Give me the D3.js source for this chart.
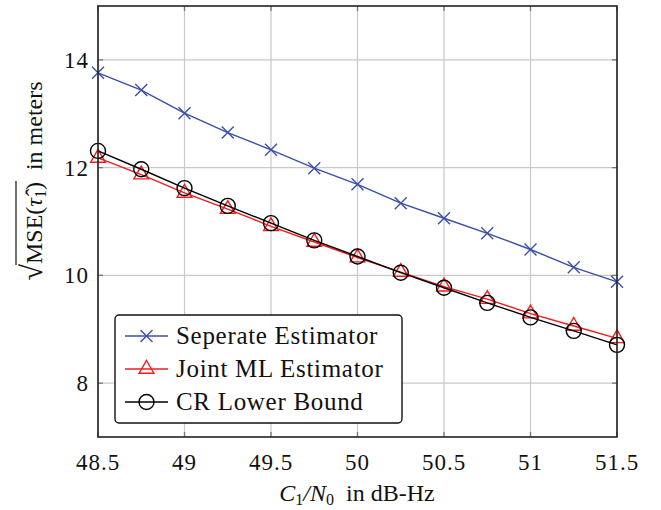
<!DOCTYPE html>
<html>
<head>
<meta charset="utf-8">
<script src="https://cdn.jsdelivr.net/npm/d3@7"></script>
<style>
  body { margin: 0; background: #fff; }
  svg { display: block; }
  .grid line { stroke: #c8c8c8; stroke-width: 1.2; }
  text { font-family: "Liberation Serif", "DejaVu Serif", serif; fill: #111; }
</style>
</head>
<body>
<svg id="chart" width="661" height="510"></svg>
<script>
var xValues = [48.5, 48.75, 49, 49.25, 49.5, 49.75, 50, 50.25, 50.5, 50.75, 51, 51.25, 51.5];
var separate = [13.76, 13.44, 13.01, 12.65, 12.33, 11.99, 11.69, 11.34, 11.06, 10.78, 10.48, 10.15, 9.88];
var jointML = [12.18, 11.87, 11.53, 11.23, 10.91, 10.62, 10.33, 10.06, 9.79, 9.56, 9.29, 9.06, 8.83];
var crBound = [12.31, 11.97, 11.62, 11.29, 10.97, 10.65, 10.35, 10.05, 9.77, 9.49, 9.22, 8.97, 8.71];
var xTicks = [48.5, 49, 49.5, 50, 50.5, 51, 51.5];
var yTicks = [8, 10, 12, 14];
var seriesNames = ['Seperate Estimator', 'Joint ML Estimator', 'CR Lower Bound'];

var svg = d3.select('#chart');
var plotLeft = 98, plotRight = 617, plotTop = 6, plotBottom = 437;

var xScale = d3.scaleLinear().domain([48.5, 51.5]).range([plotLeft, plotRight]);
var yScale = d3.scaleLinear().domain([7, 15]).range([plotBottom, plotTop]);

// grid
var grid = svg.append('g').attr('class', 'grid');
grid.selectAll('line.v').data(xTicks).enter().append('line')
    .attr('x1', function (d) { return xScale(d); })
    .attr('x2', function (d) { return xScale(d); })
    .attr('y1', plotTop).attr('y2', plotBottom);
grid.selectAll('line.h').data(yTicks).enter().append('line')
    .attr('x1', plotLeft).attr('x2', plotRight)
    .attr('y1', function (d) { return yScale(d); })
    .attr('y2', function (d) { return yScale(d); });

// inward ticks on all sides
var tickG = svg.append('g').attr('stroke', '#777').attr('stroke-width', 1.3);
xTicks.forEach(function (d) {
    tickG.append('line').attr('x1', xScale(d)).attr('x2', xScale(d)).attr('y1', plotBottom).attr('y2', plotBottom - 5);
    tickG.append('line').attr('x1', xScale(d)).attr('x2', xScale(d)).attr('y1', plotTop).attr('y2', plotTop + 5);
});
yTicks.forEach(function (d) {
    tickG.append('line').attr('x1', plotLeft).attr('x2', plotLeft + 5).attr('y1', yScale(d)).attr('y2', yScale(d));
    tickG.append('line').attr('x1', plotRight).attr('x2', plotRight - 5).attr('y1', yScale(d)).attr('y2', yScale(d));
});

// tick labels
svg.append('g').selectAll('text').data(xTicks).enter().append('text')
    .attr('x', function (d) { return xScale(d); })
    .attr('y', 470)
    .attr('text-anchor', 'middle')
    .style('font-size', '23px')
    .style('letter-spacing', '1px')
    .text(function (d) { return d; });
svg.append('g').selectAll('text').data(yTicks).enter().append('text')
    .attr('x', plotLeft - 9)
    .attr('y', function (d) { return yScale(d) + 8; })
    .attr('text-anchor', 'end')
    .style('font-size', '23px')
    .style('letter-spacing', '1px')
    .text(function (d) { return d; });

// series
var series = [
    { name: seriesNames[0], values: separate, color: '#3a4fa6', marker: 'cross' },
    { name: seriesNames[1], values: jointML, color: '#f21c1c', marker: 'triangle' },
    { name: seriesNames[2], values: crBound, color: '#000', marker: 'circle' }
];

var line = d3.line()
    .x(function (d) { return xScale(d[0]); })
    .y(function (d) { return yScale(d[1]); });

function drawMarker(g, type, x, y, color) {
    if (type === 'cross') {
        var s = 6;
        g.append('path')
            .attr('d', 'M' + (x - s) + ',' + (y - s) + 'L' + (x + s) + ',' + (y + s) +
                'M' + (x - s) + ',' + (y + s) + 'L' + (x + s) + ',' + (y - s))
            .attr('stroke', color).attr('stroke-width', 1.4).attr('fill', 'none');
    } else if (type === 'triangle') {
        var r = 8.5;
        g.append('path')
            .attr('d', 'M' + x + ',' + (y - r) + 'L' + (x + r * 0.866) + ',' + (y + r * 0.5) +
                'L' + (x - r * 0.866) + ',' + (y + r * 0.5) + 'Z')
            .attr('stroke', color).attr('stroke-width', 1.4).attr('fill', 'none');
    } else {
        g.append('circle').attr('cx', x).attr('cy', y).attr('r', 7.5)
            .attr('stroke', color).attr('stroke-width', 1.4).attr('fill', 'none');
    }
}

series.forEach(function (s) {
    var pts = xValues.map(function (x, i) { return [x, s.values[i]]; });
    var g = svg.append('g');
    g.append('path').attr('d', line(pts))
        .attr('stroke', s.color).attr('stroke-width', 1.4).attr('fill', 'none');
    pts.forEach(function (p) {
        drawMarker(g, s.marker, xScale(p[0]), yScale(p[1]), s.color);
    });
});

// frame
svg.append('rect')
    .attr('x', plotLeft).attr('y', plotTop)
    .attr('width', plotRight - plotLeft).attr('height', plotBottom - plotTop)
    .attr('fill', 'none').attr('stroke', '#222').attr('stroke-width', 1.6);

// legend
var legend = svg.append('g');
legend.append('rect')
    .attr('x', 115).attr('y', 315).attr('width', 287).attr('height', 108).attr('rx', 4)
    .attr('fill', '#fff').attr('stroke', '#111').attr('stroke-width', 1.4);
series.forEach(function (s, i) {
    var cy = 336 + i * 33;
    legend.append('line').attr('x1', 125).attr('x2', 168).attr('y1', cy).attr('y2', cy)
        .attr('stroke', s.color).attr('stroke-width', 1.4);
    drawMarker(legend, s.marker, 146.5, cy, s.color);
    legend.append('text').attr('x', 176).attr('y', cy + 8)
        .style('font-size', '25px')
        .style('letter-spacing', '0.7px')
        .text(s.name);
});

// x axis label
var xl = svg.append('text')
    .attr('x', 357).attr('y', 501)
    .attr('text-anchor', 'middle')
    .style('font-size', '24px');
xl.append('tspan').style('font-style', 'italic').text('C');
xl.append('tspan').attr('dy', 4).style('font-size', '16px').text('1');
xl.append('tspan').attr('dy', -4).style('font-style', 'italic').text('/N');
xl.append('tspan').attr('dy', 4).style('font-size', '16px').text('0');
xl.append('tspan').attr('dy', -4).text('\u00a0 in dB-Hz');

// y axis label (rotated)
var yl = svg.append('g').attr('transform', 'translate(42,181) rotate(-90)');
var ylText = yl.append('text')
    .attr('x', 0).attr('y', 0)
    .attr('text-anchor', 'middle')
    .style('font-size', '24px');
ylText.append('tspan').style('font-size', '30px').text('\u221a');
ylText.append('tspan').text('MSE(');
ylText.append('tspan').style('font-style', 'italic').text('\u03c4\u0302');
ylText.append('tspan').attr('dy', 4).style('font-size', '16px').text('1');
ylText.append('tspan').attr('dy', -4).text(')');
ylText.append('tspan').text('\u00a0 in meters');
var tspans = ylText.selectAll('tspan').nodes();
var startX = tspans[1].getStartPositionOfChar(0).x;
var endX = tspans[4].getEndPositionOfChar(0).x;
yl.append('line')
    .attr('x1', startX - 1).attr('x2', endX + 1)
    .attr('y1', -26).attr('y2', -26)
    .attr('stroke', '#111').attr('stroke-width', 1.2);
</script>
</body>
</html>
